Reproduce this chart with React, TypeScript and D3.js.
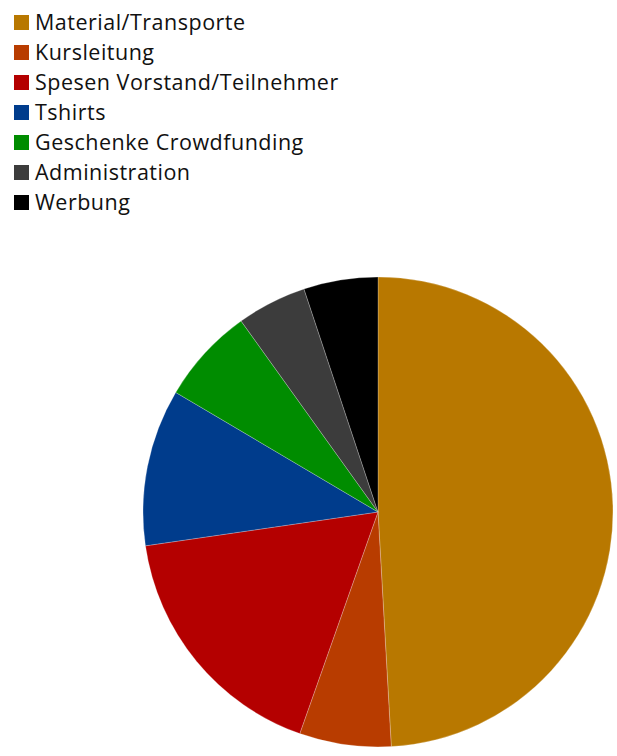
import React from "react";
import * as d3 from "d3";

const categories = [
  "Material/Transporte",
  "Kursleitung",
  "Spesen Vorstand/Teilnehmer",
  "Tshirts",
  "Geschenke Crowdfunding",
  "Administration",
  "Werbung",
];
const values = [49.1, 6.3, 17.3, 10.8, 6.6, 4.8, 5.1];
const colors = ["#b87800", "#b83c00", "#b40000", "#003c8c", "#008c00", "#3c3c3c", "#000000"];

export default function App() {
  const W = 617, H = 756;
  const cx = 378, cy = 512, r = 235;
  const pie = d3.pie<number>().sort(null).value((d) => d)(values);
  const arc = d3.arc<d3.PieArcDatum<number>>().innerRadius(0).outerRadius(r);
  return (
    <svg width={W} height={H} style={{ position: "absolute", left: 0, top: 0 }}>
      <g transform={`translate(${cx},${cy})`}>
        {pie.map((p, i) => (
          <path key={i} d={arc(p) || ""} fill={colors[i]} stroke="#ffffff" strokeWidth={0.4} strokeOpacity={0.6} />
        ))}
      </g>
      <g fontFamily="'Open Sans', 'Noto Sans', sans-serif" fontSize={21.5} letterSpacing={0.5} fill="#111">
        {categories.map((c, i) => (
          <g key={c} transform={`translate(0,${15 + i * 30})`}>
            <rect x={14} y={0} width={15} height={15} fill={colors[i]} />
            <text x={35} y={7.5} dy="0.36em">{c}</text>
          </g>
        ))}
      </g>
    </svg>
  );
}
